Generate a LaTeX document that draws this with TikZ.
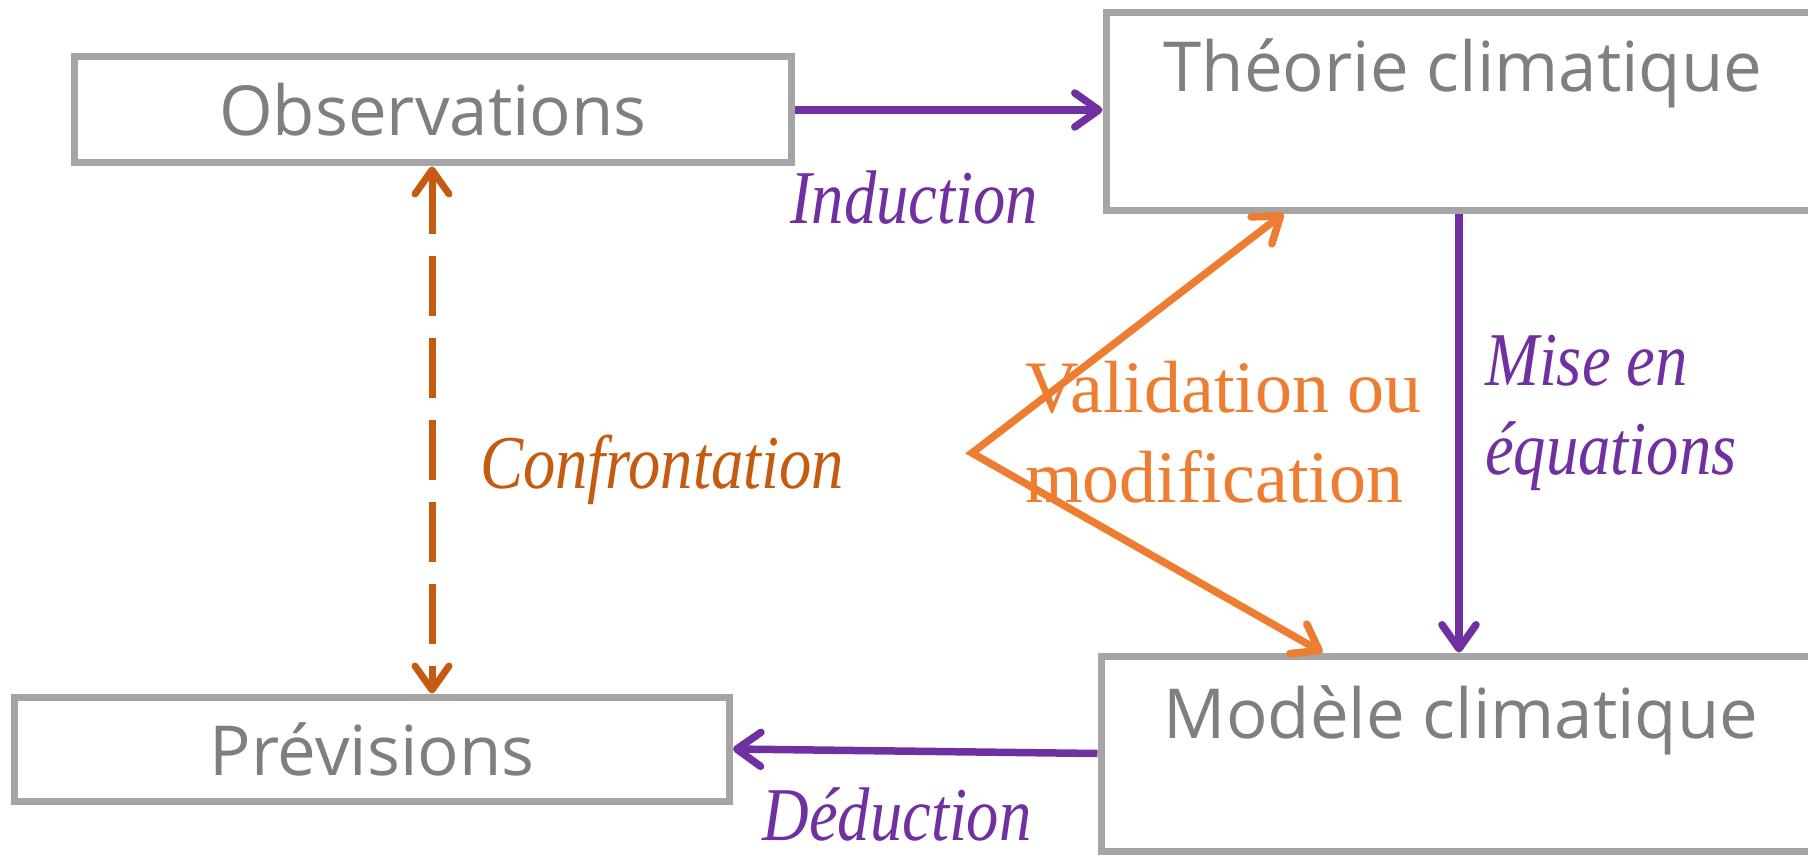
\documentclass[tikz,border=0pt]{standalone}
\usepackage{fontspec}
\setmainfont{Liberation Serif}
\setsansfont{Open Sans}
\newfontfamily\slimserif[FakeStretch=0.85]{Liberation Serif}
\usepackage{xcolor}
\usetikzlibrary{
    arrows.meta,
    calc,
    positioning
}
\definecolor{boxgrey}{HTML}{A5A5A5}
\definecolor{textgrey}{HTML}{7F7F7F}
\definecolor{linkpurple}{HTML}{7030A0}
\definecolor{valorange}{HTML}{ED7D31}
\definecolor{confrontorange}{HTML}{C55A11}
\tikzset{
    box/.style={draw=boxgrey, line width=7pt, rectangle, inner sep=0pt,
        font=\sffamily\fontsize{69}{83}\selectfont, text=textgrey},
    boxtext/.style={inner sep=0pt, font=\sffamily\fontsize{69}{83}\selectfont, text=textgrey},
    linklabel/.style={inner sep=0pt, align=left, text=linkpurple,
        font=\slimserif\itshape\fontsize{76}{89}\selectfont},
    link/.style={draw=linkpurple, line width=7.5pt}
}

\begin{document}
\begin{tikzpicture}[x=1pt, y=-1pt, >={Straight Barb[length=24pt, width=34pt, round]}]
                        \useasboundingbox (0, 0) rectangle (1808, 856);
                        \node[box, minimum width=717pt, minimum height=106pt] (obs) at (433, 110) {Observations};
                        \node[box, minimum width=715pt, minimum height=104pt] (prev) at (372, 749) {Prévisions};
                        \node[box, minimum width=724pt, minimum height=197pt] (theo) at (1468, 111.5) {};
                        \node[box, minimum width=729pt, minimum height=195pt] (mod) at (1465.5, 753.5) {};
                        \node[boxtext, anchor=base] (theotxt) at (1463, 92) {Théorie climatique};
                        \node[boxtext, anchor=base] (modtxt) at (1461, 738) {Modèle climatique};
                        \coordinate (fork) at (972, 453);
                        \draw[link]
                        (obs.east) edge[->] (obs.east -| theo.west)
                        (theo.south -| 1459, 0) edge[->] (mod.north -| 1459, 0)
                        (mod.west) edge[->] (prev.east);
                        \draw[confrontorange, line width=7pt, <->, dash pattern=on 60pt off 22pt]
                        (obs.south -| 432, 0) -- (prev.north -| 432, 0);
                        \draw[valorange, line width=7.5pt, <->]
                        ([xshift=181pt]theo.south west) -- (fork) -- ([xshift=225pt]mod.north west);
                        \node[linklabel, anchor=base] (induc) at (914, 223) {Induction};
                        \node[linklabel, anchor=base] (deduc) at (897, 840) {Déduction};
                        \node[linklabel, anchor=west] (mise) at (1485, 413) {Mise en\\équations};
                        \node[linklabel, anchor=base, text=confrontorange] (confr) at (662, 488) {Confrontation};
                        \node[inner sep=0pt, anchor=west, align=left, text=valorange,
                            font=\fontsize{74}{90}\selectfont] (valid) at (1025, 432) {Validation ou\\modification};
                    \end{tikzpicture}
\end{document}
